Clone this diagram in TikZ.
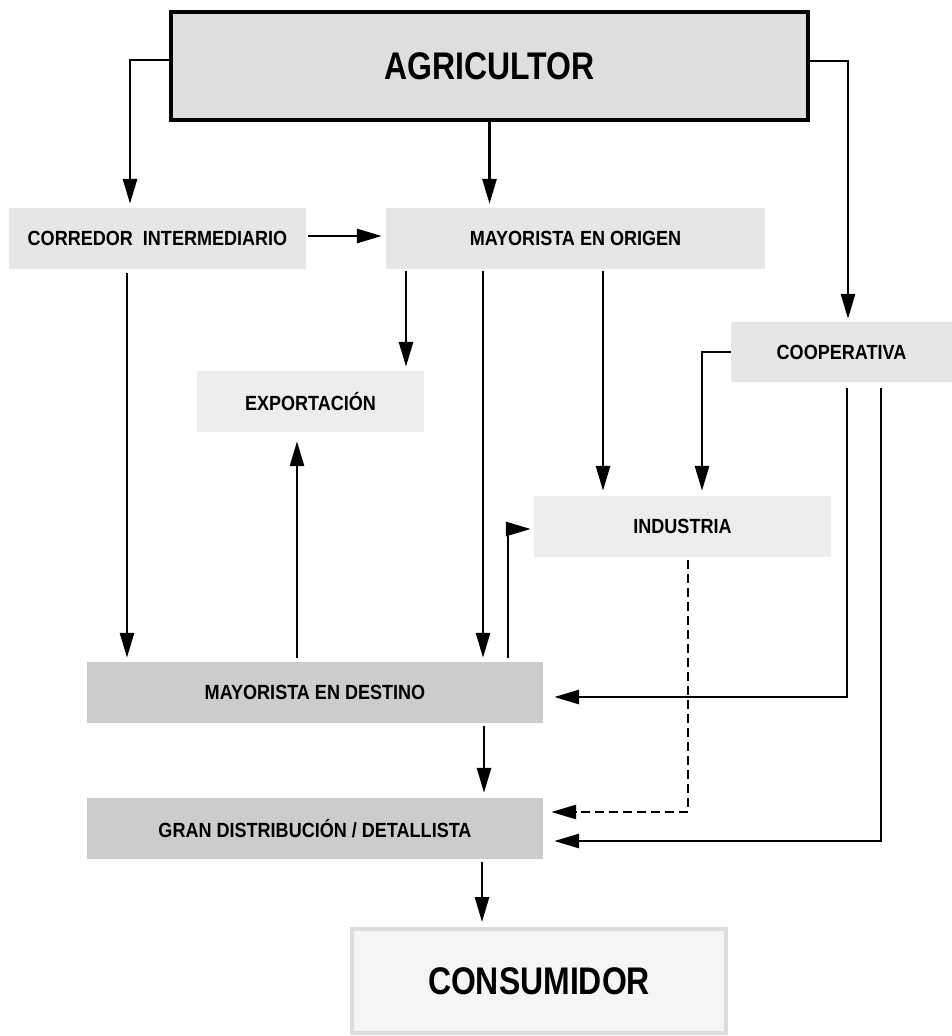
\documentclass[tikz,border=0pt]{standalone}
\usepackage{fontspec}
\usetikzlibrary{arrows.meta}
\newfontfamily\boxfont[FakeStretch=0.88]{Liberation Sans}
\newfontfamily\endfont[FakeStretch=0.83]{Liberation Sans}
\definecolor{fillA}{HTML}{DEDEDE}
\definecolor{fillB}{HTML}{E6E6E6}
\definecolor{fillC}{HTML}{EDEDED}
\definecolor{fillD}{HTML}{CCCCCC}
\definecolor{fillE}{HTML}{F5F5F5}
\definecolor{rimE}{HTML}{DCDCDC}
\tikzset{
  box/.style={rectangle, inner sep=0pt, minimum height=61pt,
    font=\boxfont\bfseries\fontsize{20.5}{23}\selectfont},
  endbox/.style={rectangle, inner sep=0pt, line width=4pt,
    font=\endfont\bfseries\fontsize{38.5}{44}\selectfont},
  arr/.style={-{Triangle[length=25pt,width=14pt]}, line width=2.8pt},
}
\begin{document}
\begin{tikzpicture}[x=1pt,y=-1pt]
  \useasboundingbox (0,0) rectangle (952,1036);
  % boxes
  \node[endbox, draw=black, fill=fillA, minimum width=637pt, minimum height=108pt]
    (agri) at (489.5,66) {AGRICULTOR};
  \node[box, fill=fillB, minimum width=297pt] (corredor) at (157.5,238.5) {CORREDOR\ \ INTERMEDIARIO};
  \node[box, fill=fillB, minimum width=379pt] (origen) at (575.5,238.5) {MAYORISTA EN ORIGEN};
  \node[box, fill=fillC, minimum width=227pt] (export) at (310.5,401.5) {EXPORTACIÓN};
  \node[box, fill=fillB, minimum width=221pt, minimum height=60pt] (coop) at (841.5,352) {COOPERATIVA};
  \node[box, fill=fillC, minimum width=297pt] (industria) at (682.5,526.5) {INDUSTRIA};
  \node[box, fill=fillD, minimum width=456pt] (destino) at (315,692.5) {MAYORISTA EN DESTINO};
  \node[box, fill=fillD, minimum width=456pt] (gran) at (315,828.5) {GRAN DISTRIBUCIÓN / DETALLISTA};
  \node[endbox, draw=rimE, fill=fillE, minimum width=374pt, minimum height=104pt]
    (consum) at (539,981) {CONSUMIDOR};
  % from the farmer
  \draw[arr, shorten >=4pt] ([yshift=6pt]agri.west) -| ([xshift=-27.5pt]corredor.north);
  \draw[arr, shorten >=4pt] (agri.south) -- (agri.south |- origen.north);
  \draw[arr, shorten >=3pt] ([yshift=5pt]agri.east) -| ([xshift=6.5pt]coop.north);
  % middlemen
  \draw[arr, shorten <=2pt, shorten >=4pt] ([yshift=2.5pt]corredor.east) -- ([yshift=2.5pt]origen.west);
  \draw[arr, shorten >=4pt] ([xshift=-30.5pt,yshift=-4pt]corredor.south) -- ([xshift=-30.5pt]corredor.south |- destino.north);
  \draw[arr, shorten >=4pt] ([xshift=-169.5pt,yshift=-2pt]origen.south) -- ([xshift=-169.5pt]origen.south |- export.north);
  \draw[arr, shorten >=4pt] ([xshift=-92.5pt,yshift=-2pt]origen.south) -- ([xshift=-92.5pt]origen.south |- destino.north);
  \draw[arr, shorten >=5pt] ([xshift=27.5pt,yshift=-2pt]origen.south) -- ([xshift=27.5pt]origen.south |- industria.north);
  % cooperative
  \draw[arr, shorten >=5pt] (coop.west) -| ([xshift=19.5pt]industria.north);
  \draw[arr, shorten >=11pt] ([xshift=5.5pt,yshift=-6pt]coop.south) |- ([yshift=-4.5pt]destino.east);
  \draw[arr, shorten >=11pt] ([xshift=39.5pt,yshift=-6pt]coop.south) |- ([yshift=-12.5pt]gran.east);
  \draw[arr, dash pattern=on 9pt off 5pt, shorten >=8pt]
    ([xshift=5.5pt,yshift=-3pt]industria.south) |- ([yshift=16.5pt]gran.east);
  % destination wholesaler
  \draw[arr, shorten >=9pt] ([xshift=-18pt,yshift=4pt]destino.north) -- ([xshift=-18pt]destino.north |- export.south);
  \draw[arr, shorten >=3pt] ([xshift=193pt,yshift=4pt]destino.north) |- ([yshift=-2.5pt]industria.west);
  \draw[arr, shorten >=5pt] ([xshift=169pt,yshift=-3pt]destino.south) -- ([xshift=169pt]destino.south |- gran.north);
  \draw[arr, shorten >=5pt] ([xshift=167pt,yshift=-3pt]gran.south) -- ([xshift=167pt]gran.south |- consum.north);
\end{tikzpicture}
\end{document}
